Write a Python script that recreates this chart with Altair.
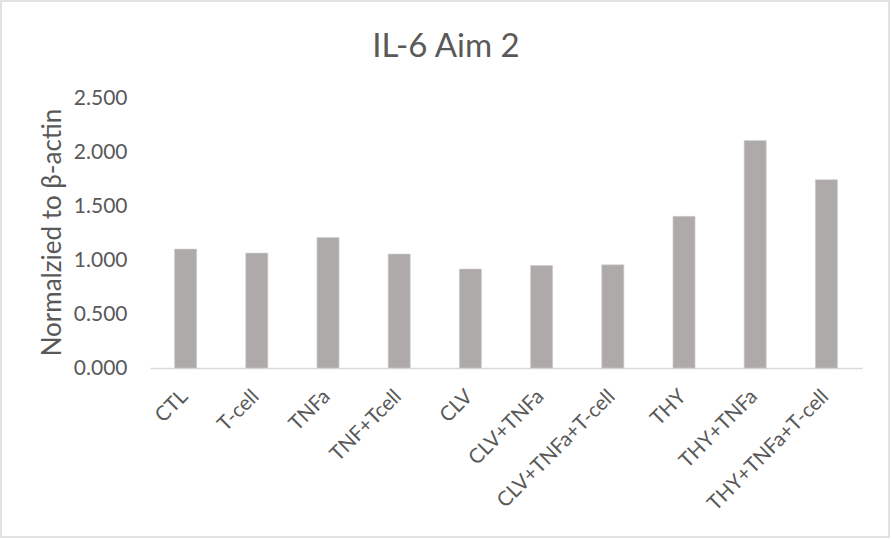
import altair as alt
import pandas as pd

groups = ["CTL", "T-cell", "TNFa", "TNF+Tcell", "CLV", "CLV+TNFa",
          "CLV+TNFa+T-cell", "THY", "THY+TNFa", "THY+TNFa+T-cell"]
values = [1.101, 1.064, 1.209, 1.055, 0.916, 0.949, 0.955, 1.404, 2.106, 1.744]
y_ticks = [0.0, 0.5, 1.0, 1.5, 2.0, 2.5]
chart_title = ["IL-6 Aim 2"]

df = pd.DataFrame({"group": groups, "value": values})
title_df = pd.DataFrame({"t": chart_title})

FONT = "Lato"
TEXT = "#595959"
W, H = 712, 270
PAD = {"left": 150, "top": 98, "right": 29, "bottom": 171}

bars = alt.Chart(df).mark_bar(color="#AEAAAA", stroke="#D0CECE", strokeWidth=0.6).encode(
    x=alt.X("group:N", sort=groups, title=None,
            scale=alt.Scale(paddingInner=0.69, paddingOuter=0.345),
            axis=alt.Axis(labelAngle=-45, labelFontSize=20.5, labelColor=TEXT,
                          labelFont=FONT, ticks=False, domainColor="#D9D9D9",
                          domainWidth=1.5, labelPadding=18, labelOffset=-8)),
    y=alt.Y("value:Q", title="Normalzied to β-actin",
            scale=alt.Scale(domain=[0, 2.5], nice=False),
            axis=alt.Axis(values=y_ticks, format=".3f", grid=False, domain=False,
                          ticks=False, labelFontSize=21, labelColor=TEXT,
                          labelFont=FONT, labelPadding=23,
                          titleFontSize=26, titleColor=TEXT, titleFont=FONT,
                          titleFontWeight="normal", titleX=-98, titleY=134,
                          titleBaseline="middle")),
)

# chart heading, centred over the whole figure
heading = alt.Chart(title_df).mark_text(
    font=FONT, fontSize=33, color=TEXT, align="center", baseline="middle", clip=False
).encode(text="t:N", x=alt.value(446 - PAD["left"]), y=alt.value(47 - PAD["top"]))

# outer frame around the whole figure
frame = alt.Chart(title_df).mark_rect(fill=None, stroke="#D9D9D9", strokeWidth=1.5, clip=False).encode(
    x=alt.value(-PAD["left"] + 1), x2=alt.value(W + PAD["right"] - 2),
    y=alt.value(-PAD["top"] + 1), y2=alt.value(H + PAD["bottom"] - 2),
)

chart = alt.layer(frame, bars, heading).properties(
    width=W, height=H,
    autosize=alt.AutoSizeParams(type="none"),
    padding=PAD,
    background="white",
).configure_view(strokeWidth=0, stroke="transparent")

chart.save("out.html", embed_options={"renderer": "svg", "actions": False})
